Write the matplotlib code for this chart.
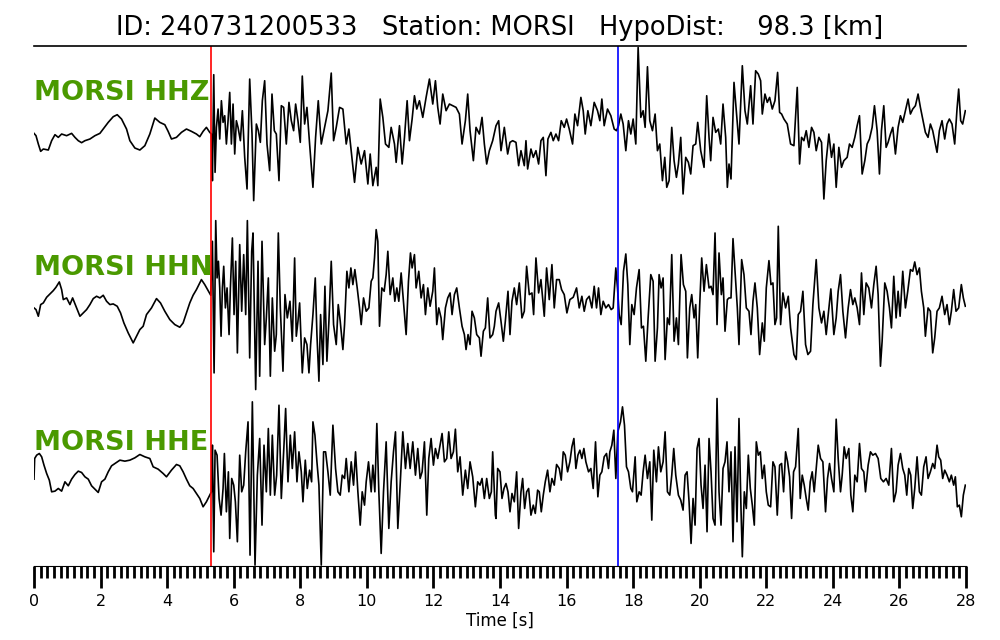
import numpy as np
import matplotlib.pyplot as plt
from matplotlib.ticker import MultipleLocator

# event info
event_id = "240731200533"
station = "MORSI"
hypo_dist = 98.3
p_pick = 5.33
s_pick = 17.56
channels = ["HHZ", "HHN", "HHE"]

# traces as (time [s], amplitude [counts]) turning points
hhz_t = [0.00, 0.06, 0.13, 0.20, 0.28, 0.43, 0.53, 0.63, 0.73, 0.83, 0.98, 1.13, 1.23, 1.33, 1.43, 1.53, 1.68, 1.83, 1.98,
         2.08, 2.23, 2.38, 2.50, 2.63, 2.78, 2.88, 3.03, 3.18, 3.33, 3.48, 3.63, 3.78, 3.93, 4.03, 4.13, 4.28, 4.43, 4.58,
         4.73, 4.88, 4.98, 5.08, 5.18, 5.28, 5.33, 5.36, 5.40, 5.44, 5.48, 5.53, 5.58, 5.63, 5.68, 5.73, 5.78, 5.83, 5.88,
         5.93, 5.98, 6.03, 6.08, 6.13, 6.20, 6.26, 6.33, 6.40, 6.48, 6.55, 6.60, 6.68, 6.74, 6.80, 6.86, 6.93, 7.00, 7.08,
         7.15, 7.22, 7.28, 7.36, 7.43, 7.50, 7.58, 7.66, 7.73, 7.80, 7.86, 7.93, 8.00, 8.06, 8.13, 8.20, 8.28, 8.38, 8.46,
         8.54, 8.63, 8.73, 8.83, 8.93, 9.00, 9.08, 9.18, 9.28, 9.38, 9.46, 9.53, 9.63, 9.73, 9.83, 9.93, 10.03, 10.10,
         10.18, 10.28, 10.33, 10.40, 10.48, 10.56, 10.66, 10.73, 10.83, 10.88, 10.98, 11.06, 11.13, 11.21, 11.28, 11.36,
         11.43, 11.50, 11.58, 11.68, 11.78, 11.88, 11.98, 12.06, 12.13, 12.20, 12.28, 12.38, 12.48, 12.58, 12.68, 12.78,
         12.86, 12.96, 13.03, 13.10, 13.20, 13.28, 13.38, 13.46, 13.53, 13.60, 13.68, 13.78, 13.88, 13.96, 14.03, 14.13,
         14.23, 14.30, 14.38, 14.48, 14.56, 14.63, 14.73, 14.78, 14.83, 14.93, 15.00, 15.08, 15.16, 15.23, 15.30, 15.38,
         15.44, 15.53, 15.60, 15.68, 15.76, 15.84, 15.93, 16.00, 16.08, 16.18, 16.25, 16.33, 16.43, 16.50, 16.56, 16.64,
         16.73, 16.83, 16.93, 17.00, 17.06, 17.13, 17.23, 17.33, 17.43, 17.50, 17.56, 17.63, 17.70, 17.78, 17.86, 17.93,
         18.00, 18.08, 18.15, 18.23, 18.30, 18.36, 18.43, 18.50, 18.58, 18.66, 18.73, 18.80, 18.88, 18.95, 19.01, 19.08,
         19.16, 19.23, 19.30, 19.36, 19.43, 19.50, 19.58, 19.66, 19.73, 19.80, 19.88, 19.94, 20.03, 20.13, 20.21, 20.28,
         20.33, 20.40, 20.48, 20.56, 20.63, 20.70, 20.78, 20.83, 20.88, 20.94, 21.03, 21.10, 21.18, 21.28, 21.36, 21.43,
         21.53, 21.60, 21.68, 21.76, 21.83, 21.88, 21.96, 22.03, 22.10, 22.18, 22.26, 22.34, 22.40, 22.46, 22.53, 22.63,
         22.73, 22.83, 22.93, 23.00, 23.06, 23.13, 23.20, 23.28, 23.36, 23.43, 23.50, 23.58, 23.66, 23.73, 23.80, 23.88,
         23.96, 24.03, 24.10, 24.18, 24.26, 24.33, 24.43, 24.50, 24.58, 24.66, 24.73, 24.80, 24.88, 24.96, 25.03, 25.10,
         25.18, 25.25, 25.33, 25.40, 25.46, 25.53, 25.60, 25.66, 25.73, 25.80, 25.88, 25.96, 26.03, 26.10, 26.18, 26.26,
         26.33, 26.40, 26.48, 26.56, 26.63, 26.70, 26.78, 26.86, 26.93, 27.00, 27.08, 27.13, 27.20, 27.28, 27.36, 27.43,
         27.50, 27.58, 27.66, 27.73, 27.78, 27.84, 27.90, 27.98]
hhz_amp = [-10, -17, -42, -64, -57, -60, -32, -14, -22, -12, -17, -10, -22, -32, -38, -32, -27, -17, -10,
           3, 23, 40, 46, 33, 3, -32, -54, -60, -47, -12, 36, 23, 16, -4, -27, -22, -7, 3,
           -4, -12, -20, -4, 8, -7, -12, -152, 166, -127, 8, 63, -27, 88, 23, 43, -42, 28, 113,
           -42, 78, -72, 28, 8, -32, 58, -82, -177, 153, -12, -212, 18, -2, -37, 88, 148, -42, -122,
           108, -2, -12, -152, 73, 68, -42, 83, 28, -2, 78, 28, -37, 162, 18, 68, -42, -172, -22,
           88, -42, 8, 58, 171, -32, 8, 68, 63, -42, 3, -62, -157, -52, -102, -62, -162, -72,
           -167, -112, -167, 93, 38, -42, -52, 8, -42, -97, 13, -102, -22, 88, -32, 33,
           103, 63, 88, 38, 98, 153, 78, 148, 68, 18, 108, 58, 78, 73, 68, 48,
           -42, 28, 108, -2, -92, 8, -12, 38, -42, -102, -62, -32, 13, 28, -62, 8,
           -72, -37, -32, -37, -107, -62, -107, -32, -117, -57, -82, -62, -102, -32, -22, -137,
           -27, -7, -32, -12, -32, 28, 8, 33, 3, -42, 48, 13, 98, 58, -12, 58,
           13, 83, 58, 28, 93, 13, 63, 43, 3, -2, 13, 48, 18, -62, 28, -12,
           33, -42, 248, 38, 58, 8, 190, 28, -2, 48, -62, -42, -152, -82, -172, -152,
           8, -92, -142, -102, -22, -192, -82, -97, -132, -47, -42, 23, -62, -112, 103, -22,
           -92, 38, -7, 3, -42, 78, -22, -172, -102, -147, 143, 58, -42, 193, 58, 18,
           133, 18, 178, 168, 148, 48, 108, 83, 98, 63, 88, 173, 53, 48, 33, 18,
           -42, -47, 128, -102, -22, -32, -2, -52, 8, -7, -62, -22, -37, -207, -92, -12,
           -82, -42, -172, -52, -112, -92, -82, -42, -52, -22, 13, 43, -132, -92, -42, -27,
           8, 73, -2, -132, -2, 73, -52, -37, -12, 8, -72, 8, 43, 23, 58, 93,
           48, 63, 73, 108, 68, 33, -7, -22, 18, -2, -42, -67, -2, 28, -27, 18,
           33, 18, -42, 63, 123, 28, 18, 58]

hhn_t = [0.00, 0.06, 0.13, 0.20, 0.28, 0.38, 0.48, 0.58, 0.66, 0.76, 0.83, 0.88, 0.98, 1.08, 1.16, 1.26, 1.38, 1.48, 1.58,
         1.68, 1.78, 1.88, 1.98, 2.08, 2.18, 2.28, 2.38, 2.50, 2.60, 2.70, 2.83, 2.98, 3.08, 3.18, 3.28, 3.38, 3.53, 3.68,
         3.80, 3.93, 4.08, 4.23, 4.38, 4.48, 4.58, 4.68, 4.78, 4.88, 4.98, 5.03, 5.13, 5.23, 5.31, 5.36, 5.41, 5.46, 5.50,
         5.54, 5.58, 5.62, 5.66, 5.70, 5.75, 5.80, 5.86, 5.90, 5.96, 6.01, 6.06, 6.11, 6.18, 6.24, 6.30, 6.36, 6.41, 6.48,
         6.54, 6.58, 6.66, 6.73, 6.78, 6.85, 6.93, 6.98, 7.04, 7.10, 7.16, 7.23, 7.28, 7.34, 7.40, 7.48, 7.54, 7.61, 7.69,
         7.76, 7.83, 7.88, 7.93, 7.98, 8.06, 8.13, 8.20, 8.26, 8.31, 8.38, 8.45, 8.50, 8.56, 8.61, 8.68, 8.74, 8.80, 8.86,
         8.93, 9.00, 9.08, 9.14, 9.20, 9.28, 9.33, 9.40, 9.46, 9.52, 9.58, 9.64, 9.71, 9.78, 9.83, 9.90, 9.98, 10.06,
         10.13, 10.18, 10.23, 10.28, 10.33, 10.38, 10.45, 10.52, 10.58, 10.63, 10.70, 10.78, 10.84, 10.90, 10.96, 11.03,
         11.10, 11.18, 11.25, 11.31, 11.36, 11.43, 11.48, 11.56, 11.63, 11.70, 11.76, 11.83, 11.90, 11.98, 12.03, 12.10,
         12.16, 12.23, 12.28, 12.36, 12.43, 12.50, 12.56, 12.63, 12.70, 12.78, 12.86, 12.93, 12.98, 13.04, 13.10, 13.16,
         13.23, 13.30, 13.38, 13.43, 13.50, 13.56, 13.63, 13.70, 13.78, 13.83, 13.88, 13.96, 14.03, 14.10, 14.16, 14.24,
         14.30, 14.36, 14.43, 14.50, 14.58, 14.66, 14.73, 14.80, 14.88, 14.96, 15.01, 15.08, 15.16, 15.23, 15.33, 15.40,
         15.48, 15.56, 15.63, 15.70, 15.78, 15.85, 15.93, 16.01, 16.10, 16.20, 16.30, 16.38, 16.46, 16.53, 16.60, 16.68,
         16.76, 16.83, 16.90, 16.96, 17.03, 17.10, 17.18, 17.26, 17.34, 17.40, 17.48, 17.53, 17.58, 17.64, 17.71, 17.78,
         17.84, 17.90, 17.96, 18.03, 18.10, 18.18, 18.25, 18.31, 18.38, 18.45, 18.53, 18.60, 18.66, 18.73, 18.78, 18.84,
         18.90, 18.96, 19.03, 19.09, 19.16, 19.23, 19.30, 19.36, 19.44, 19.51, 19.58, 19.63, 19.70, 19.76, 19.83, 19.88,
         19.94, 20.00, 20.06, 20.13, 20.20, 20.28, 20.34, 20.40, 20.46, 20.52, 20.58, 20.65, 20.70, 20.76, 20.83, 20.88,
         20.94, 21.00, 21.06, 21.13, 21.18, 21.26, 21.33, 21.40, 21.48, 21.54, 21.60, 21.66, 21.73, 21.80, 21.88, 21.94,
         22.00, 22.08, 22.14, 22.20, 22.26, 22.31, 22.36, 22.43, 22.50, 22.58, 22.66, 22.73, 22.83, 22.90, 22.96, 23.03,
         23.10, 23.18, 23.25, 23.33, 23.40, 23.50, 23.58, 23.66, 23.73, 23.80, 23.88, 23.94, 24.03, 24.10, 24.16, 24.23,
         24.30, 24.38, 24.46, 24.53, 24.60, 24.66, 24.73, 24.80, 24.86, 24.93, 25.00, 25.08, 25.16, 25.23, 25.30, 25.36,
         25.43, 25.48, 25.56, 25.63, 25.70, 25.76, 25.83, 25.90, 25.96, 26.02, 26.10, 26.18, 26.25, 26.33, 26.40, 26.46,
         26.53, 26.60, 26.66, 26.73, 26.78, 26.86, 26.93, 27.00, 27.06, 27.13, 27.20, 27.28, 27.36, 27.43, 27.50, 27.56,
         27.63, 27.70, 27.78, 27.86, 27.92, 27.98]
hhn_amp = [-9, -14, -34, 1, 6, 23, 33, 43, 53, 69, 46, 16, 21, 1, 21, -4, -34, -24, -14,
           1, 19, 26, 21, 29, 11, 1, 3, -4, -24, -54, -84, -114, -94, -74, -64, -29, -9, 19,
           6, -19, -44, -59, -67, -54, -24, 6, 29, 46, 66, 76, 61, 43, 29, 191, -204, 253, 81,
           131, 51, -94, 51, 116, -9, 51, -89, 51, 201, -29, 131, -144, 181, -19, 151, -29, 253, -159,
           161, 216, -254, 131, -214, 191, -119, -39, 81, -214, 21, -139, -89, 216, -9, -199, 31, -39, 11,
           -109, 141, -94, -49, 6, -204, -99, -119, -204, -119, -29, 81, -89, -229, -29, -179, 56, -169, -49,
           131, -59, -119, 1, -49, -134, -59, 101, 51, 111, 61, 106, 51, -9, -59, 21, -19, -9,
           71, 81, 141, 226, 191, -64, 51, 41, 91, 161, 31, 81, 11, 51, 11, 96,
           11, -89, 71, 156, 111, 151, 51, 101, 21, 61, -29, 51, -4, 41, 111, -59,
           -9, -39, -104, -9, 21, 36, -29, 31, 51, -9, -64, -89, -134, -89, -119, -19,
           -39, -89, -99, -154, -79, -69, 21, -99, -89, -64, -19, 6, -49, -109, -49, 41,
           -89, 11, 51, 1, 66, -39, -19, 116, 31, 36, -29, 141, 36, 76, -34, 111,
           16, 121, -9, 76, 76, 46, 31, -24, 16, 23, 51, -9, 26, -19, 16, 26,
           -9, 56, -9, 51, -29, 11, -9, 1, -14, -9, 111, 51, -29, -59, 101, 153,
           61, -119, 1, -29, 51, 106, -69, -64, -169, -39, 91, 71, -169, -69, 91, 51,
           81, -164, -39, -59, 151, -109, -39, -119, 151, 61, 41, -159, -9, 31, -39, 1,
           -159, 1, 141, 41, 121, 51, 56, 31, 216, -59, 156, 31, 81, -79, 16, 21,
           21, 199, 101, -9, -119, 136, 91, -9, -19, -89, 11, 66, -9, -149, -54, -109,
           51, 133, 61, 66, -59, -39, 236, -59, 36, -9, 26, -69, -149, -164, -29, -19,
           41, -119, -149, -139, 1, 136, -9, -54, -19, -89, -9, 48, -89, -39, 41, 91,
           -19, -99, -9, 46, 1, 21, -9, -59, 96, -29, 66, 51, -9, 61, 116, 31,
           -184, -109, 66, 41, -9, -69, 86, -39, 41, -34, 101, -9, 41, 106, 101, 129,
           91, 111, 41, -9, -94, -9, -19, -144, -99, -19, -9, 26, -29, 1, -59, -19,
           46, -19, -9, 61, 21, -4]

hhe_t = [0.00, 0.02, 0.08, 0.16, 0.23, 0.30, 0.38, 0.46, 0.53, 0.63, 0.73, 0.83, 0.93, 1.03, 1.13, 1.23, 1.33, 1.43,
         1.53, 1.63, 1.73, 1.83, 1.93, 2.03, 2.13, 2.23, 2.33, 2.48, 2.58, 2.73, 2.88, 3.03, 3.18, 3.33, 3.48, 3.58, 3.73,
         3.88, 3.98, 4.13, 4.28, 4.38, 4.48, 4.58, 4.68, 4.78, 4.88, 4.98, 5.08, 5.18, 5.28, 5.33, 5.36, 5.40, 5.44, 5.50,
         5.56, 5.62, 5.68, 5.72, 5.78, 5.84, 5.88, 5.94, 6.00, 6.05, 6.11, 6.18, 6.24, 6.30, 6.36, 6.43, 6.49, 6.56, 6.64,
         6.71, 6.78, 6.85, 6.91, 6.98, 7.04, 7.10, 7.16, 7.23, 7.29, 7.36, 7.43, 7.51, 7.56, 7.63, 7.70, 7.76, 7.83, 7.90,
         7.96, 8.03, 8.08, 8.15, 8.21, 8.28, 8.34, 8.38, 8.44, 8.50, 8.56, 8.63, 8.70, 8.76, 8.83, 8.90, 8.98, 9.06, 9.13,
         9.20, 9.26, 9.33, 9.38, 9.46, 9.53, 9.60, 9.66, 9.73, 9.80, 9.86, 9.93, 9.98, 10.05, 10.13, 10.18, 10.24, 10.30,
         10.36, 10.43, 10.50, 10.58, 10.66, 10.73, 10.80, 10.86, 10.93, 11.00, 11.08, 11.16, 11.23, 11.30, 11.38, 11.46,
         11.53, 11.60, 11.66, 11.73, 11.80, 11.86, 11.93, 12.00, 12.06, 12.13, 12.20, 12.26, 12.33, 12.40, 12.46, 12.53,
         12.60, 12.66, 12.73, 12.80, 12.88, 12.96, 13.03, 13.10, 13.18, 13.26, 13.33, 13.40, 13.46, 13.53, 13.60, 13.68,
         13.74, 13.78, 13.86, 13.88, 13.93, 14.00, 14.06, 14.12, 14.18, 14.24, 14.30, 14.36, 14.43, 14.50, 14.56, 14.63,
         14.68, 14.74, 14.80, 14.86, 14.93, 15.00, 15.06, 15.13, 15.18, 15.24, 15.30, 15.36, 15.43, 15.50, 15.56, 15.63,
         15.70, 15.78, 15.84, 15.90, 15.96, 16.03, 16.10, 16.16, 16.22, 16.28, 16.34, 16.40, 16.46, 16.52, 16.58, 16.66,
         16.73, 16.80, 16.87, 16.94, 17.00, 17.06, 17.13, 17.20, 17.26, 17.30, 17.36, 17.42, 17.48, 17.54, 17.62, 17.68,
         17.74, 17.80, 17.86, 17.93, 17.98, 18.06, 18.11, 18.18, 18.24, 18.30, 18.36, 18.43, 18.50, 18.56, 18.62, 18.70,
         18.76, 18.83, 18.90, 18.96, 19.03, 19.10, 19.16, 19.22, 19.28, 19.36, 19.43, 19.50, 19.56, 19.62, 19.68, 19.74,
         19.80, 19.86, 19.92, 19.98, 20.04, 20.10, 20.16, 20.22, 20.28, 20.34, 20.40, 20.46, 20.52, 20.58, 20.64, 20.70,
         20.76, 20.82, 20.88, 20.94, 21.00, 21.06, 21.12, 21.18, 21.24, 21.28, 21.34, 21.40, 21.46, 21.52, 21.58, 21.64,
         21.70, 21.76, 21.82, 21.88, 21.94, 22.00, 22.06, 22.13, 22.20, 22.26, 22.33, 22.40, 22.46, 22.52, 22.58, 22.64,
         22.70, 22.76, 22.82, 22.88, 22.96, 23.02, 23.08, 23.14, 23.20, 23.26, 23.32, 23.38, 23.44, 23.50, 23.56, 23.63,
         23.70, 23.78, 23.84, 23.90, 23.96, 24.03, 24.10, 24.16, 24.23, 24.28, 24.34, 24.40, 24.48, 24.54, 24.60, 24.66,
         24.73, 24.80, 24.86, 24.93, 24.98, 25.06, 25.13, 25.20, 25.28, 25.36, 25.44, 25.52, 25.60, 25.68, 25.76, 25.83,
         25.90, 25.96, 26.03, 26.10, 26.16, 26.22, 26.28, 26.34, 26.40, 26.46, 26.53, 26.60, 26.66, 26.73, 26.80, 26.86,
         26.93, 27.00, 27.06, 27.13, 27.18, 27.24, 27.30, 27.36, 27.43, 27.50, 27.56, 27.63, 27.68, 27.74, 27.80, 27.86,
         27.92, 27.98]
hhe_amp = [2, 64, 74, 79, 69, 44, 19, -1, -36, -34, -26, -34, -6, -18, 2, 16, 26, 22,
           9, 2, -18, -28, -38, -6, 2, 24, 42, 52, 59, 56, 59, 66, 76, 69, 64, 39, 32,
           19, 9, 29, 46, 42, 24, 2, -18, -26, -41, -56, -81, -66, -46, -36, 104, -216, 89, 74,
           -56, -106, -26, 79, -96, 24, -176, 4, -16, -66, -186, 74, -36, -16, 84, 174, -226, 234, -256,
           14, 124, -136, 104, -36, 154, -46, 134, -46, 14, 224, -56, 104, 214, -6, 134, 34, 144, -6,
           84, 24, -66, 59, -26, 29, -6, 174, 134, 54, -16, -256, 84, 84, 24, -46, 164, 34, -36,
           -46, 14, 4, 64, -36, 54, -16, 84, -36, -136, -36, -76, -6, 54, -36, 44, -36, 169,
           -36, -221, -36, 114, -146, -6, 84, 144, -146, -16, 144, 34, 109, 34, 114, 14,
           94, 4, 24, 114, -106, 64, 124, 44, 94, 64, 104, 139, 54, 64, 144, 64,
           84, 152, 24, 69, -46, 29, -26, 54, 9, -81, -6, -16, 4, -56, 4, -56,
           -36, 84, -106, -116, 34, 24, -56, -26, -11, -36, -96, -41, -66, 24, -146, -36,
           4, -86, -36, -26, -106, -76, -101, -31, -36, -96, -46, -6, 29, -36, 4, -16,
           46, 34, -1, 84, 74, 24, 54, 99, 124, 34, 74, 89, 64, 94, 54, 24,
           34, -26, 114, -51, 14, 24, 69, 79, 34, 84, 104, 149, 4, 144, 174, 219,
           164, 39, 24, -26, -36, 69, -66, -36, -46, 24, 74, 4, 54, -121, 89, -6,
           99, 24, 54, 144, -36, -46, 14, 94, 14, -46, -61, -91, 14, 24, -66, -191,
           -56, -136, 94, 124, -16, -86, 44, -156, 124, 24, -116, -136, 244, -36, -136, 34,
           54, 114, -36, 84, -186, 99, -126, 184, -86, -231, -36, -86, 74, -26, -76, -136,
           114, 74, 84, 4, 44, -36, -76, -81, 54, 39, -106, 44, 49, -36, 84, 54,
           9, -116, 24, 39, 154, -56, 14, -16, -56, -91, -6, 24, -36, 34, 104, 64,
           54, -96, 4, 49, 4, -36, 182, 64, -36, 14, 99, 64, 94, -46, -96, 14,
           -6, 109, 34, 24, -36, 44, 84, 74, 79, 64, 4, -6, 4, -16, 94, -66,
           -36, 44, 79, 34, 14, -46, 34, 14, -86, -26, 69, -36, -46, 39, 69, 4,
           24, 49, 34, 104, 69, 59, 4, 29, 14, -6, 14, -16, 9, -81, -76, -111,
           -46, -16]

traces = [(hhz_t, hhz_amp), (hhn_t, hhn_amp), (hhe_t, hhe_amp)]
trace_step = 525  # vertical spacing between traces in counts

fig = plt.figure(figsize=(10, 6.4), dpi=100)
ax = fig.add_axes([0.034, 0.116, 0.932, 0.812])

for i, (t, amp) in enumerate(traces):
    offset = -i * trace_step
    ax.plot(t, np.array(amp) + offset, color='black', lw=1.2)
    ax.text(0.0, offset + 112, f"{station} {channels[i]}", color='#4a9900',
            fontsize=19.5, fontweight='bold', ha='left', va='center')

ax.axvline(p_pick, color='red', lw=1.2)
ax.axvline(s_pick, color='blue', lw=1.2)

ax.set_xlim(0, 28)
ax.set_ylim(-2 * trace_step - 258, 252)

for side in ['left', 'right']:
    ax.spines[side].set_visible(False)
ax.spines['top'].set_linewidth(1.2)
ax.set_yticks([])

ax.xaxis.set_major_locator(MultipleLocator(2))
ax.xaxis.set_minor_locator(MultipleLocator(0.2))
ax.tick_params(axis='x', which='major', length=16, width=2, labelsize=11.5, pad=4.5)
ax.tick_params(axis='x', which='minor', length=8.5, width=2)
ax.set_xlabel("Time [s]", fontsize=12, labelpad=1.5)

ax.set_title(f"ID: {event_id}   Station: {station}   HypoDist:    {hypo_dist} [km]",
             fontsize=18.5, pad=8)

fig.savefig("out.png", dpi=100)
